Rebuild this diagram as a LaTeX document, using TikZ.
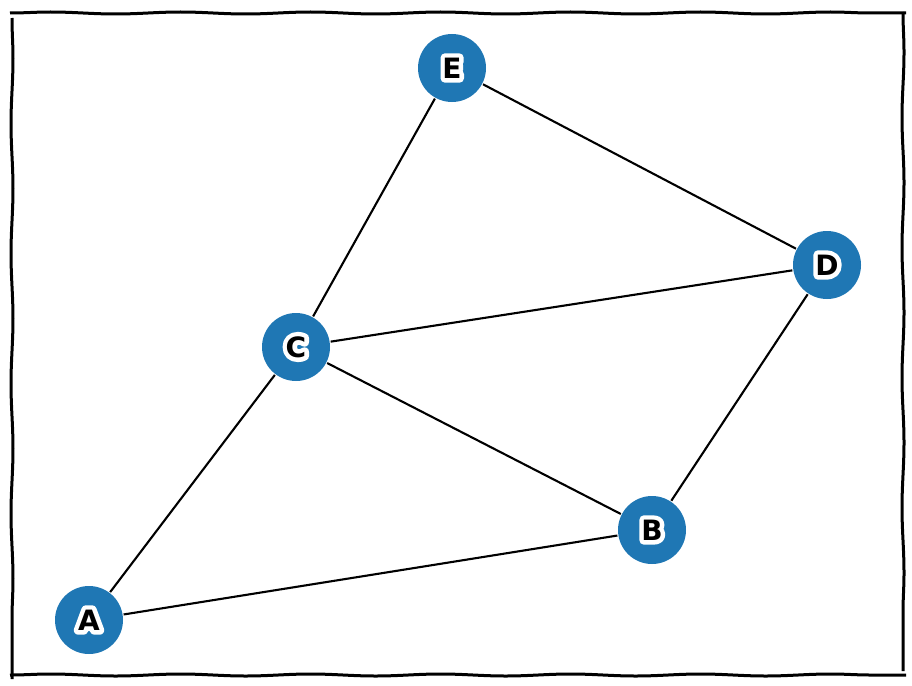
\documentclass[tikz,border=0pt]{standalone}
\usepackage{fontspec}
\setsansfont{DejaVu Sans}
\usetikzlibrary{decorations.pathmorphing}
\definecolor{nodeblue}{HTML}{1F77B4}
% letter with a white outline behind it
\newcommand\halolabel[1]{\makebox[0pt][l]{\color{white}\special{pdf:literal direct 2 Tr 9 w 1 j}#1\special{pdf:literal direct 0 Tr 1 w}}#1}

\begin{document}
\begin{tikzpicture}[x=1pt,y=-1pt,thick,line width=2.1pt,
  main node/.style={circle,fill=nodeblue,minimum size=68pt,inner sep=0pt,font=\sffamily\bfseries\fontsize{28}{28}\selectfont},
  frame line/.style={line width=3pt,decorate,decoration={snake,amplitude=1pt,segment length=130pt}}]
  \useasboundingbox (0,0) rectangle (912,685);

  % wavy frame
  \draw[frame line] (10,13) -- (906,13);
  \draw[frame line] (12,18) -- (12,679);
  \draw[frame line] (903,12) -- (903,671);
  \draw[frame line] (10,675) -- (906,675);

  \node[main node] (E) at (452,68) {\halolabel{E}};
  \node[main node] (D) at (827,265) {\halolabel{D}};
  \node[main node] (C) at (296,347) {\halolabel{C}};
  \node[main node] (B) at (652,530) {\halolabel{B}};
  \node[main node] (A) at (89,620) {\halolabel{A}};

  \path[-]
    (E) edge (C)
    (E) edge (D)
    (C) edge (D)
    (C) edge (B)
    (C) edge (A)
    (A) edge (B)
    (B) edge (D);
\end{tikzpicture}
\end{document}
